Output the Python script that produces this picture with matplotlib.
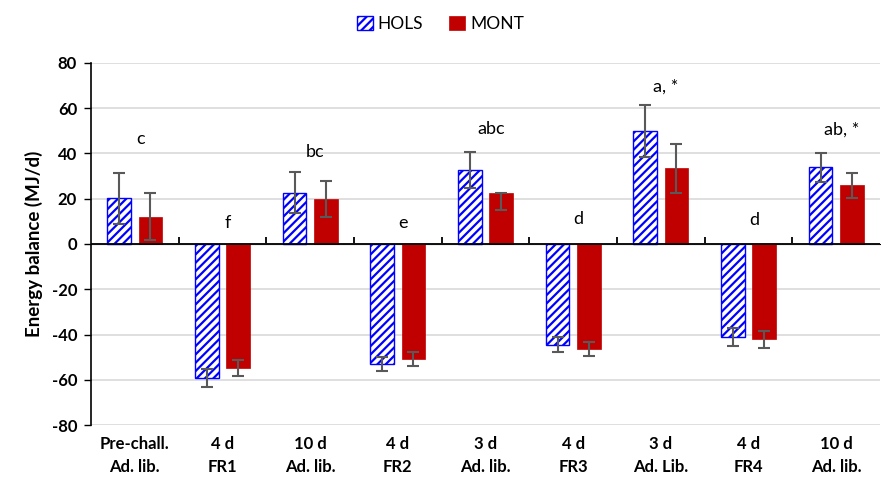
import numpy as np
import matplotlib.pyplot as plt

plt.rcParams['font.family'] = ['Lato', 'DejaVu Sans']
plt.rcParams['hatch.linewidth'] = 1.6
plt.rcParams['axes.unicode_minus'] = False

# data
categories = ["Pre-chall.\nAd. lib.", "4 d\nFR1", "10 d\nAd. lib.", "4 d\nFR2", "3 d\nAd. lib.",
              "4 d\nFR3", "3 d\nAd. Lib.", "4 d\nFR4", "10 d\nAd. lib."]
hols = [20.2, -59.1, 22.7, -53.0, 32.7, -44.6, 50.1, -41.0, 33.9]
hols_err = [11.4, 4.0, 9.0, 3.2, 8.0, 3.3, 11.5, 4.0, 6.3]
mont = [12.1, -54.8, 19.8, -50.8, 22.7, -46.5, 33.4, -42.1, 25.9]
mont_err_lo = [10.4, 3.7, 8.0, 3.0, 7.5, 3.0, 10.7, 3.7, 5.7]
mont_err_hi = [10.4, 3.7, 8.0, 3.0, 0.0, 3.0, 10.7, 3.7, 5.7]
letters = ["c", "f", "bc", "e", "abc", "d", "a, *", "d", "ab, *"]
letter_y = [46.5, 9.5, 40.5, 9.5, 51, 11, 69.5, 10.5, 50.5]

x = np.arange(len(categories))
w = 0.27
off = 0.177

fig = plt.figure(figsize=(8.81, 4.91), dpi=100)
ax = fig.add_axes([91/881, 1-425/491, 789/881, 362/491])

ax.bar(x - off, hols, w, color='white', edgecolor='#0000FF', hatch='////', linewidth=1.0,
       label='HOLS', zorder=3)
ax.bar(x + off, mont, w, color='#C00000', edgecolor='#C00000', linewidth=0.5,
       label='MONT', zorder=3)
ax.errorbar(x - off, hols, yerr=hols_err, fmt='none', ecolor='#595959', elinewidth=1.5,
            capsize=4, capthick=1.5, zorder=4)
ax.errorbar(x + off, mont, yerr=[mont_err_lo, mont_err_hi], fmt='none', ecolor='#595959',
            elinewidth=1.5, capsize=4, capthick=1.5, zorder=4)

for i, (t, yy) in enumerate(zip(letters, letter_y)):
    ax.text(x[i] + 0.06, yy, t, ha='center', va='center', fontsize=13, zorder=5)

ax.set_xlim(-0.5, len(categories) - 0.5)
ax.set_ylim(-80, 80)
ax.set_yticks(np.arange(-80, 81, 20))
ax.yaxis.grid(True, color='#D9D9D9', linewidth=1.2, zorder=0)
ax.set_axisbelow(True)
ax.tick_params(axis='y', direction='out', length=5, width=1, pad=5, labelsize=12)
for lab in ax.get_yticklabels():
    lab.set_fontweight('bold')

ax.set_xticks(x)
ax.set_xticklabels(categories, fontsize=12, fontweight='bold', linespacing=1.55)
ax.tick_params(axis='x', length=0, pad=8)

for s in ['top', 'right', 'bottom']:
    ax.spines[s].set_visible(False)
ax.spines['left'].set_linewidth(1.2)

# zero line with category-boundary ticks
ax.axhline(0, color='black', linewidth=1.3, zorder=3.5)
sec = ax.secondary_xaxis(0.5)
sec.set_xticks(x[:-1] + 0.5)
sec.set_xticklabels([])
sec.tick_params(direction='out', length=5, width=1.3, color='black')
sec.spines['bottom'].set_visible(False)

ax.set_ylabel("Energy balance (MJ/d)", fontsize=13.5, fontweight='bold', labelpad=6)

fig.legend(loc='upper center', bbox_to_anchor=(0.5, 1.0), ncol=2, frameon=False,
           fontsize=12.5, handlelength=0.9, handleheight=0.9, columnspacing=1.5,
           handletextpad=0.3)

fig.savefig("out.png", dpi=100)
